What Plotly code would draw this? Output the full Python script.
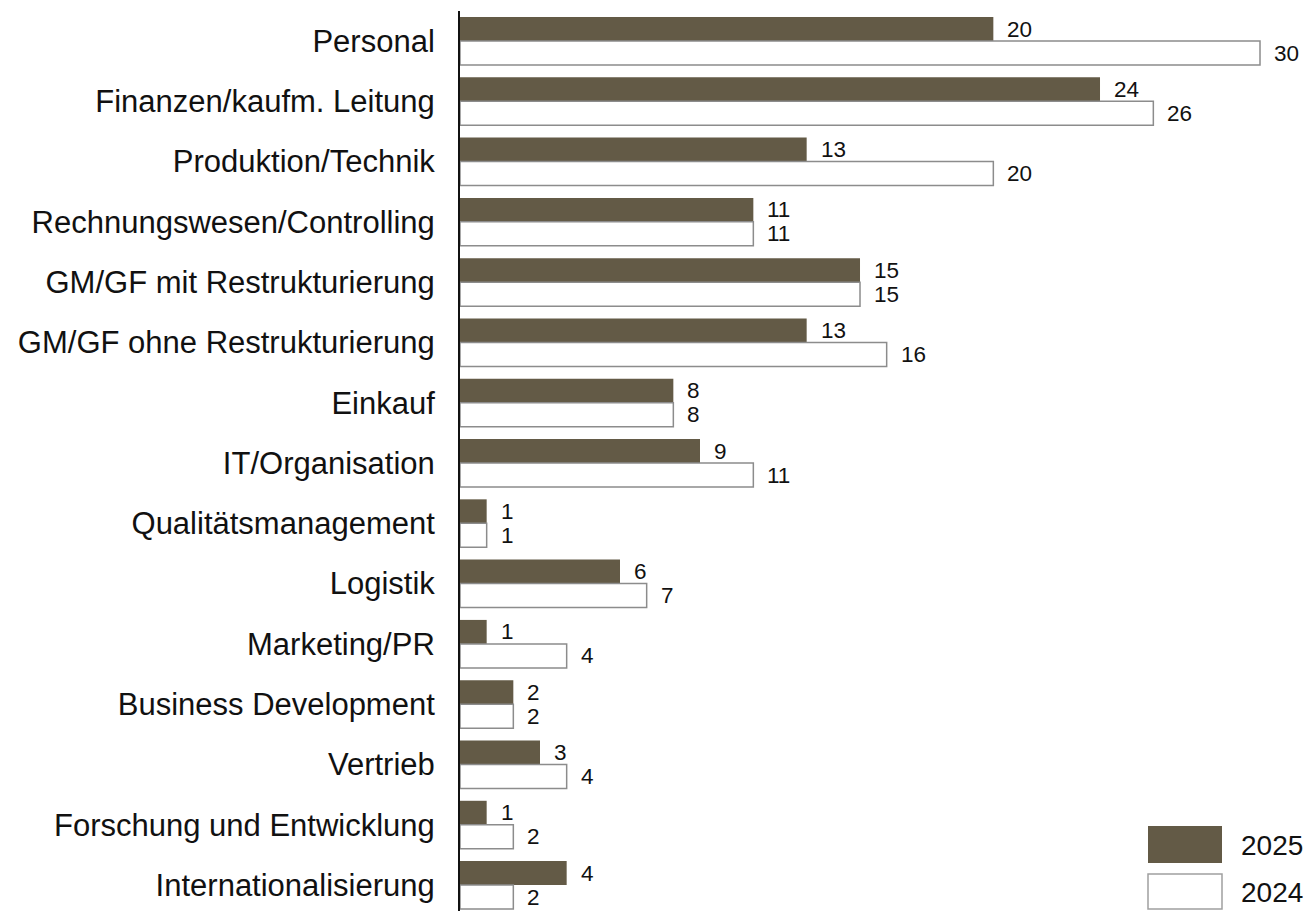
import plotly.graph_objects as go

categories = [
    "Personal", "Finanzen/kaufm. Leitung", "Produktion/Technik",
    "Rechnungswesen/Controlling", "GM/GF mit Restrukturierung",
    "GM/GF ohne Restrukturierung", "Einkauf", "IT/Organisation",
    "Qualitätsmanagement", "Logistik", "Marketing/PR",
    "Business Development", "Vertrieb", "Forschung und Entwicklung",
    "Internationalisierung",
]
values_2025 = [20, 24, 13, 11, 15, 13, 8, 9, 1, 6, 1, 2, 3, 1, 4]
values_2024 = [30, 26, 20, 11, 15, 16, 8, 11, 1, 7, 4, 2, 4, 2, 2]
series_names = ["2025", "2024"]

DARK = "#635a46"
GREY = "#8c8c8c"
FONT = "Liberation Sans, Arial, sans-serif"

W, H = 1305, 911
L, R, T, B = 460, 0, 11, 0

fig = go.Figure()
fig.add_trace(go.Bar(
    y=categories, x=values_2025, orientation="h", name=series_names[0],
    marker=dict(color=DARK, line=dict(color=DARK, width=0)),
))
fig.add_trace(go.Bar(
    y=categories, x=values_2024, orientation="h", name=series_names[1],
    marker=dict(color="white", line=dict(color=GREY, width=1.5)),
))

annotations = []
for cat, v in zip(categories, values_2025):
    annotations.append(dict(x=v, y=cat, xref="x", yref="y", text=str(v),
                            showarrow=False, xanchor="left", yanchor="middle",
                            xshift=12, yshift=12,
                            font=dict(family=FONT, size=22.5, color="#111")))
for cat, v in zip(categories, values_2024):
    annotations.append(dict(x=v, y=cat, xref="x", yref="y", text=str(v),
                            showarrow=False, xanchor="left", yanchor="middle",
                            xshift=12, yshift=-12,
                            font=dict(family=FONT, size=22.5, color="#111")))

pw, ph = W - L - R, H - T - B
def px(x):
    return (x - L) / pw
def py(y):
    return (H - B - y) / ph

shapes = [
    dict(type="rect", xref="paper", yref="paper",
         x0=px(1148), x1=px(1222), y0=py(863), y1=py(826),
         fillcolor=DARK, line=dict(color=DARK, width=0)),
    dict(type="rect", xref="paper", yref="paper",
         x0=px(1148), x1=px(1222), y0=py(909), y1=py(874),
         fillcolor="white", line=dict(color="#a0a0a0", width=1.5)),
]
annotations += [
    dict(x=px(1239), y=py(845), xref="paper", yref="paper", text=series_names[0],
         showarrow=False, xanchor="left", yanchor="middle",
         font=dict(family=FONT, size=28, color="#111")),
    dict(x=px(1239), y=py(892), xref="paper", yref="paper", text=series_names[1],
         showarrow=False, xanchor="left", yanchor="middle",
         font=dict(family=FONT, size=28, color="#111")),
]

fig.update_layout(
    width=W, height=H,
    margin=dict(l=L, r=R, t=T, b=B, pad=0),
    paper_bgcolor="white", plot_bgcolor="white",
    barmode="group", bargap=0.204, bargroupgap=0,
    showlegend=False,
    annotations=annotations, shapes=shapes,
    xaxis=dict(range=[0, pw / 26.667], showgrid=False, zeroline=False,
               showticklabels=False, showline=False, ticks=""),
    yaxis=dict(type="category", range=[14.43, -0.4976], showgrid=False,
               zeroline=False, showline=True, linecolor="#111", linewidth=2,
               ticks="", ticklabelstandoff=17,
               tickfont=dict(family=FONT, size=31, color="#111")),
)

fig.write_html(
    "out.html",
    config={"displayModeBar": False},
    post_script="document.body.style.margin='0';document.body.style.overflow='hidden';",
)
